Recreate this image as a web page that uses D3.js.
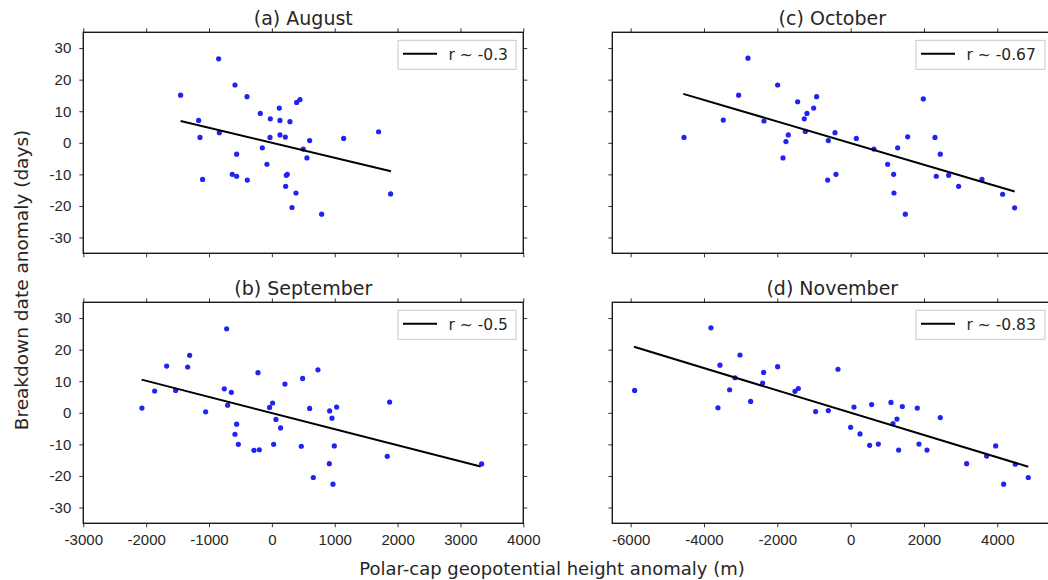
<!DOCTYPE html>
<html>
<head>
  <meta charset="UTF-8">
  <style>
    body { margin: 0; background: #fff; }
    svg { font-family: "DejaVu Sans", sans-serif; }
  </style>
  <script src="https://d3js.org/d3.v7.min.js"></script>
</head>
<body>
<svg id="chart" width="1048" height="580"></svg>
<script>
// panel titles and r values
var titles = ["(a) August", "(b) September", "(c) October", "(d) November"];
var rLabels = ["r ~ -0.3", "r ~ -0.5", "r ~ -0.67", "r ~ -0.83"];

// August
var augX = [-1452,-847,-587,-396,-1165,-1144,-836,-1102,-561,-630,-561,-391,-184,-25,118,129,288,394,447,-30,129,214,-152,-78,230,245,219,383,320,792,500,558,601,1142,1698,1889];
var augY = [15.1,26.6,18.3,14.6,7.1,1.7,3.2,-11.6,-3.6,-10.0,-10.6,-11.8,9.3,7.6,11.0,7.1,6.7,12.8,13.7,1.7,2.5,1.8,-1.6,-6.8,-10.3,-10.0,-13.8,-15.9,-20.5,-22.6,-2.0,-4.8,0.7,1.4,3.5,-16.2];
var augLineX = [-1452, 1894];
var augLineY = [6.9, -9.0];

// September
var sepX = [-2067,-1865,-1674,-1531,-1340,-1308,-1054,-720,-757,-645,-704,-561,-587,-534,-285,-200,-221,-36,12,65,139,28,208,489,733,601,468,659,919,956,1030,993,914,972,1873,1836,3337];
var sepY = [1.5,6.9,14.8,7.1,14.5,18.2,0.3,26.6,7.6,6.5,2.4,-3.6,-6.8,-10.0,-11.9,-11.7,12.7,1.7,3.1,-2.1,-4.8,-10.0,9.1,10.9,13.6,1.4,-10.6,-20.5,0.6,-1.7,1.8,-10.5,-16.1,-22.6,3.4,-13.8,-16.2];
var sepLineX = [-2072, 3321];
var sepLineY = [10.5, -17.0];

// October
var octX = [-4545,-3473,-3055,-2800,-2364,-1991,-1845,-1764,-1700,-1445,-1264,-1191,-1236,-1009,-927,-609,-427,-627,-400,155,636,1009,1173,1182,1282,1491,1555,1982,2300,2445,2336,2673,2945,3582,4145,4473];
var octY = [1.7,7.2,15.1,26.8,6.9,18.3,-4.8,0.4,2.5,13.0,7.6,9.3,3.6,11.0,14.6,0.7,3.2,-11.8,-10.0,1.4,-2.0,-6.8,-10.0,-15.9,-1.6,-22.6,1.9,13.9,1.7,-3.6,-10.6,-10.3,-13.8,-11.6,-16.3,-20.6];
var octLineX = [-4564, 4473];
var octLineY = [15.5, -15.4];

// November
var novX = [-5891,-3809,-3564,-3618,-3300,-3155,-3018,-2727,-2400,-2373,-1991,-1518,-1427,-955,-609,-345,0,91,255,518,755,573,1100,1155,1264,1309,1409,1818,1864,2082,2445,3164,3709,3955,4173,4491,4845];
var novY = [7.1,26.9,15.1,1.6,7.3,11.1,18.3,3.6,9.4,12.8,14.6,6.8,7.7,0.4,0.7,13.8,-4.6,1.8,-6.7,-10.3,-9.9,2.6,3.3,-3.4,-2.0,-11.8,2.0,1.5,-9.9,-11.8,-1.5,-16.1,-13.7,-10.5,-22.6,-16.3,-20.5];
var novLineX = [-5909, 4845];
var novLineY = [20.9, -17.1];

var yTicks = [-30, -20, -10, 0, 10, 20, 30];
var xTicksLeft = [-3000, -2000, -1000, 0, 1000, 2000, 3000, 4000];
var xTicksRight = [-6000, -4000, -2000, 0, 2000, 4000];

var panels = [
  {x: augX, y: augY, lx: augLineX, ly: augLineY, dom: [-3000, 4000], ticks: xTicksLeft, left: 83.3, top: 32.3, showY: true, showX: false},
  {x: sepX, y: sepY, lx: sepLineX, ly: sepLineY, dom: [-3000, 4000], ticks: xTicksLeft, left: 83.3, top: 302.3, showY: true, showX: true},
  {x: octX, y: octY, lx: octLineX, ly: octLineY, dom: [-6500, 5500], ticks: xTicksRight, left: 612.3, top: 32.3, showY: false, showX: false},
  {x: novX, y: novY, lx: novLineX, ly: novLineY, dom: [-6500, 5500], ticks: xTicksRight, left: 612.3, top: 302.3, showY: false, showX: true}
];

var W = 440, H = 221;
var txt = "#262626";
var svg = d3.select("#chart");

panels.forEach(function(p, i) {
  var g = svg.append("g").attr("transform", "translate(" + p.left + "," + p.top + ")");
  var x = d3.scaleLinear().domain(p.dom).range([0, W]);
  var y = d3.scaleLinear().domain([-35, 35]).range([H, 0]);

  // ticks on all four sides, pointing outward
  var axB = g.append("g").attr("transform", "translate(0," + H + ")")
    .call(d3.axisBottom(x).tickValues(p.ticks).tickSize(4).tickPadding(7).tickFormat(p.showX ? d3.format("d") : ""));
  var axT = g.append("g").call(d3.axisTop(x).tickValues(p.ticks).tickSize(4).tickFormat(""));
  var axL = g.append("g")
    .call(d3.axisLeft(y).tickValues(yTicks).tickSize(4).tickPadding(8).tickFormat(p.showY ? d3.format("d") : ""));
  var axR = g.append("g").attr("transform", "translate(" + W + ",0)")
    .call(d3.axisRight(y).tickValues(yTicks).tickSize(4).tickFormat(""));
  [axB, axT, axL, axR].forEach(function(a) {
    a.select(".domain").remove();
    a.selectAll(".tick line").attr("stroke", "#333").attr("stroke-width", 1);
    a.selectAll(".tick text").attr("fill", txt).style("font-size", "15px")
      .text(function(d) { return d3.select(this).text().replace("\u2212", "-"); });
  });

  g.append("rect").attr("width", W).attr("height", H)
    .attr("fill", "none").attr("stroke", "#1a1a1a").attr("stroke-width", 1.4);

  g.append("text").attr("x", W / 2).attr("y", -7.5).attr("text-anchor", "middle")
    .attr("fill", txt).style("font-size", "19px").text(titles[i]);

  var pts = p.x.map(function(v, k) { return [v, p.y[k]]; });
  g.selectAll("circle.pt").data(pts).enter().append("circle")
    .attr("class", "pt")
    .attr("cx", function(d) { return x(d[0]); })
    .attr("cy", function(d) { return y(d[1]); })
    .attr("r", 2.6)
    .attr("fill", "#2222f2");

  g.append("line")
    .attr("x1", x(p.lx[0])).attr("y1", y(p.ly[0]))
    .attr("x2", x(p.lx[1])).attr("y2", y(p.ly[1]))
    .attr("stroke", "#000").attr("stroke-width", 2);

  // legend
  var lw = i < 2 ? 118 : 129;
  var lg = g.append("g").attr("transform", "translate(" + (W - 7.3 - lw) + ",8)");
  lg.append("rect").attr("width", lw).attr("height", 29)
    .attr("fill", "#fff").attr("stroke", "#c8c8c8").attr("stroke-width", 1);
  lg.append("line").attr("x1", 5).attr("x2", 39).attr("y1", 13.5).attr("y2", 13.5)
    .attr("stroke", "#000").attr("stroke-width", 2);
  lg.append("text").attr("x", 50.5).attr("y", 19.5).attr("fill", txt)
    .style("font-size", "15.5px").text(rLabels[i]);
});

svg.append("text").attr("x", 552).attr("y", 575).attr("text-anchor", "middle")
  .attr("fill", txt).style("font-size", "18px")
  .text("Polar-cap geopotential height anomaly (m)");

svg.append("text").attr("transform", "translate(28,280) rotate(-90)")
  .attr("text-anchor", "middle").attr("fill", txt).style("font-size", "18.5px")
  .text("Breakdown date anomaly (days)");
</script>
</body>
</html>
